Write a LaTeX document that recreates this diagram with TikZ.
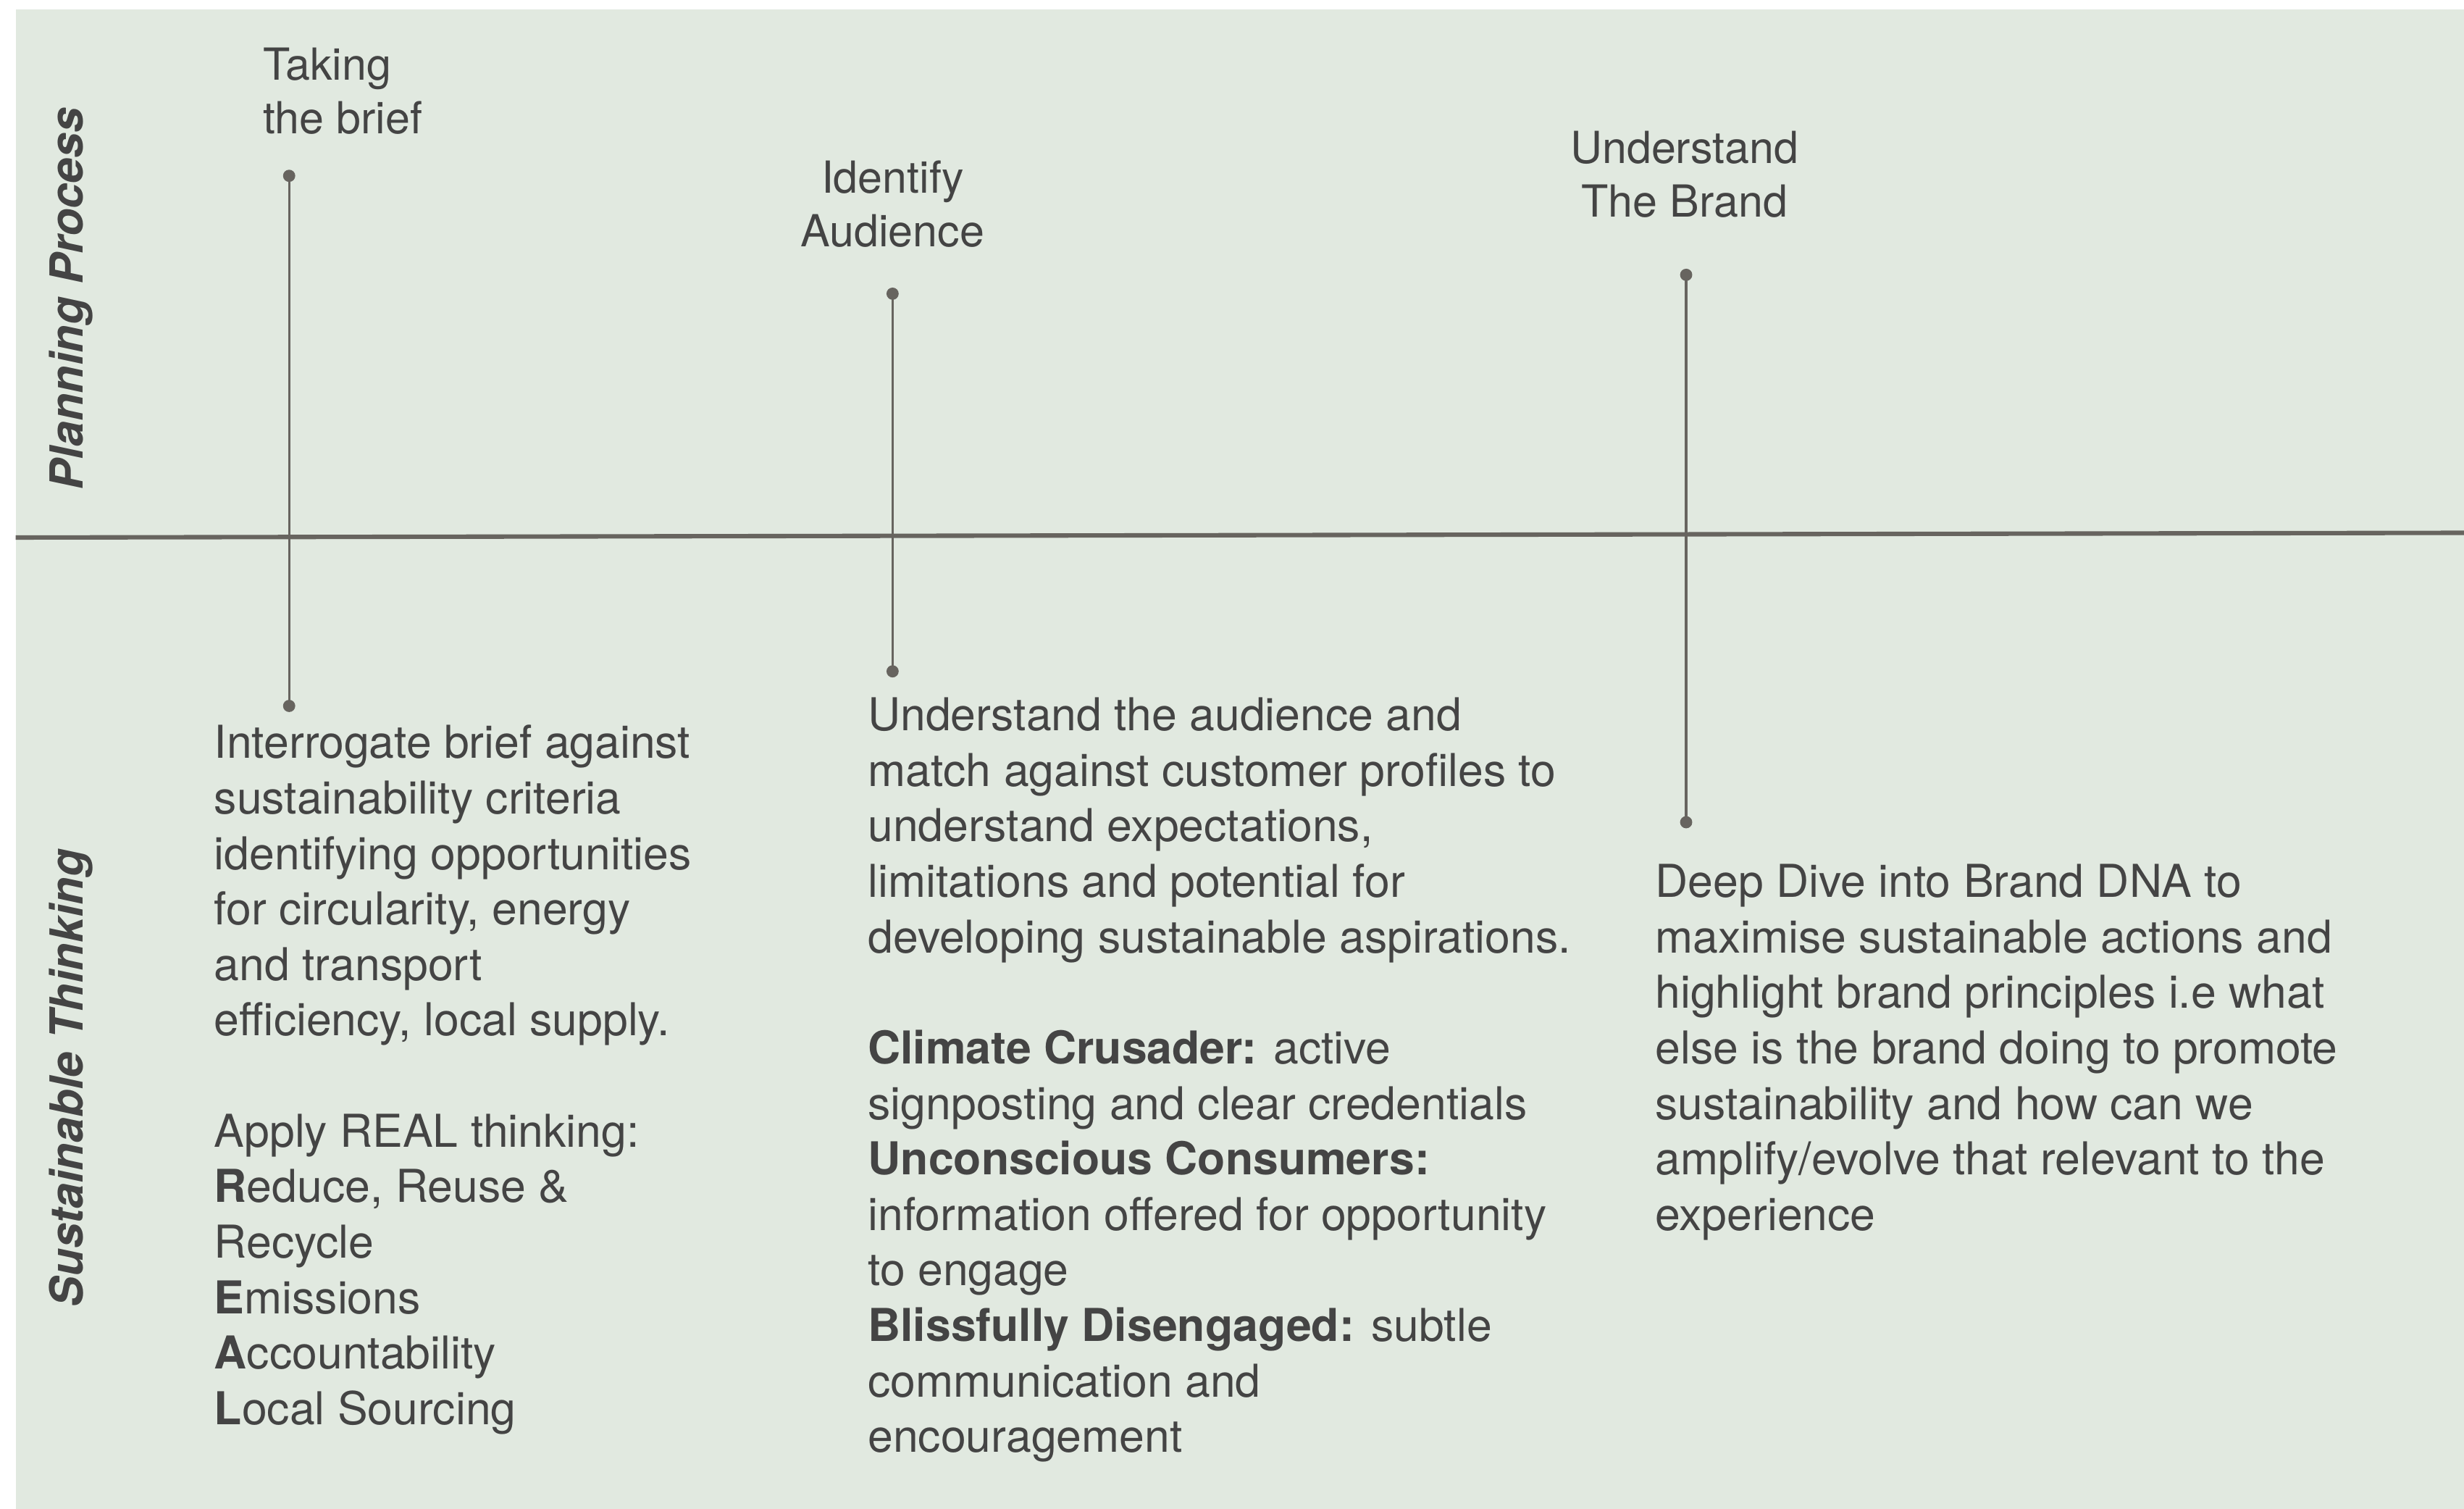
\documentclass[tikz,border=0pt]{standalone}
\usepackage{fontspec}
\setmainfont{TeX Gyre Heros}
\usepackage{tikz}
\usetikzlibrary{arrows.meta}

\definecolor{paper}{HTML}{E1E9E0}
\definecolor{rule}{HTML}{67645F}
\definecolor{ink}{HTML}{444444}

\begin{document}
\begin{tikzpicture}[
  headtext/.style={inner sep=0pt,text=ink,align=center,font=\fontsize{16}{19.4}\selectfont},
  bodytext/.style={inner sep=0pt,text=ink,align=left,anchor=north west,font=\fontsize{16.4}{20.1}\selectfont},
  sidelabel/.style={inner sep=0pt,text=ink,rotate=90,font=\fontsize{16.5}{19}\selectfont\bfseries\itshape},
  stem/.style={draw=rule,line width=0.9pt,{Circle[length=4.4pt]}-{Circle[length=4.4pt]}},
  axisline/.style={draw=rule,line width=1.6pt}
]
  \useasboundingbox (0,0) rectangle (31.36,19.2);
  \fill[paper] (0.2,0) rectangle (31.36,19.08);

  % side labels
  \node[sidelabel] (plan) at (0.9,15.4) {Planning Process};
  \node[sidelabel] (sust) at (0.9,5.48) {Sustainable Thinking};

  % stage headings
  \node[headtext,anchor=north west,align=left] (brief) at (3.34,18.6) {Taking\\the brief};
  \node[headtext,anchor=north] (audience) at (11.36,17.16) {Identify\\Audience};
  \node[headtext,anchor=north] (brand) at (21.44,17.54) {Understand\\The Brand};

  % stem ends and axis ends
  \coordinate (briefT) at (3.68,17.04);
  \coordinate (briefB) at (3.68,10.14);
  \coordinate (audienceT) at (11.36,15.54);
  \coordinate (audienceB) at (11.36,10.58);
  \coordinate (brandT) at (21.46,15.78);
  \coordinate (brandB) at (21.46,8.66);
  \coordinate (axisL) at (0.2,12.36);
  \coordinate (axisR) at (31.36,12.42);

  % sustainable thinking notes
  \node[bodytext] (briefnote) at (2.72,9.98) {Interrogate brief against\\
    sustainability criteria\\
    identifying opportunities\\
    for circularity, energy\\
    and transport\\
    efficiency, local supply.\\[20.1pt]
    Apply REAL thinking:\\
    \textbf{R}educe, Reuse \&\\
    Recycle\\
    \textbf{E}missions\\
    \textbf{A}ccountability\\
    \textbf{L}ocal Sourcing};
  \node[bodytext] (audiencenote) at (11.04,10.33) {Understand the audience and\\
    match against customer profiles to\\
    understand expectations,\\
    limitations and potential for\\
    developing sustainable aspirations.\\[20.1pt]
    \textbf{Climate Crusader:} active\\
    signposting and clear credentials\\
    \textbf{Unconscious Consumers:}\\
    information offered for opportunity\\
    to engage\\
    \textbf{Blissfully Disengaged:} subtle\\
    communication and\\
    encouragement};
  \node[bodytext] (brandnote) at (21.06,8.21) {Deep Dive into Brand DNA to\\
    maximise sustainable actions and\\
    highlight brand principles i.e what\\
    else is the brand doing to promote\\
    sustainability and how can we\\
    amplify/evolve that relevant to the\\
    experience};

  % lines
  \draw[axisline] (axisL) -- (axisR);
  \draw[stem] (briefT) -- (briefB);
  \draw[stem] (audienceT) -- (audienceB);
  \draw[stem] (brandT) -- (brandB);

\end{tikzpicture}
\end{document}
